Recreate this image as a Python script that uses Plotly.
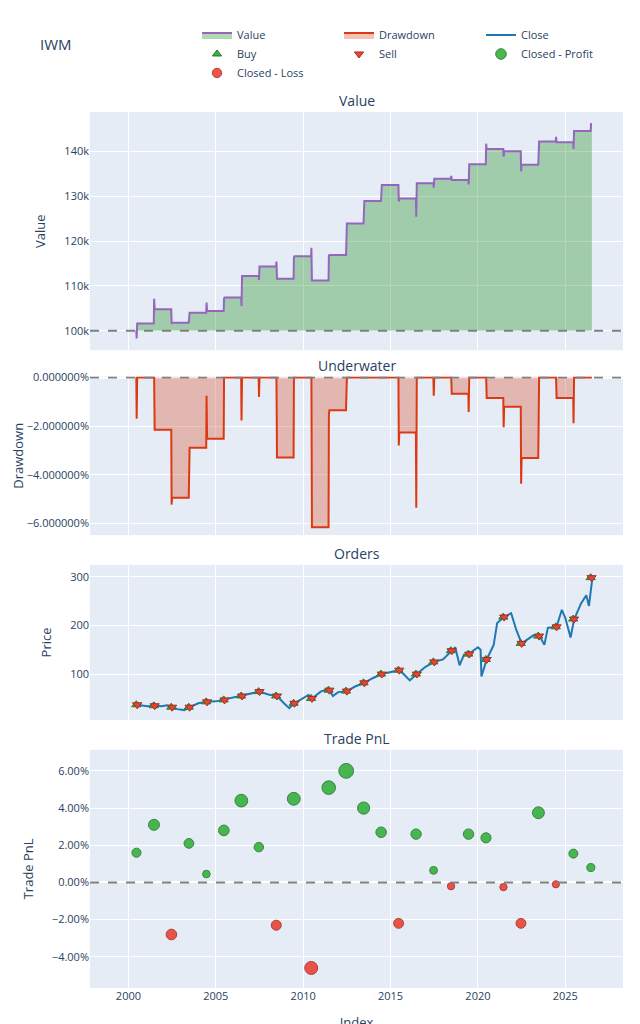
import plotly.graph_objects as go
from plotly.subplots import make_subplots

# one trade per year, entered mid-year
trade_year = list(range(2000, 2027))
trade_spike = [98.3, 107.1, 101.5, 103.8, 106.3, 107.2, 105.5, 111.3, 115.4, 116.4, 118.5, 116.7, 123.7,
               128.7, 132.3, 128.8, 125.4, 131.9, 134.5, 132.6, 141.7, 138.8, 135.5, 142.0, 143.2, 140.5, 146.1]
trade_exit_value = [101.6, 104.8, 101.8, 104.0, 104.4, 107.4, 112.2, 114.3, 111.6, 116.6, 111.2, 116.9, 123.9,
                    128.9, 132.5, 129.5, 132.9, 133.9, 133.6, 137.1, 140.5, 140.0, 137.0, 142.2, 142.0, 144.5, 146.1]
trade_pnl = [0.016, 0.031, -0.028, 0.021, 0.0045, 0.028, 0.044, 0.019, -0.023, 0.045, -0.046, 0.051, 0.060,
             0.040, 0.027, -0.022, 0.026, 0.0065, -0.002, 0.026, 0.024, -0.0025, -0.022, 0.0375, -0.001, 0.0155, 0.008]
order_price = [37, 35, 32, 32, 43, 47, 55, 64, 55, 40, 50, 67, 65, 82, 100, 108, 100, 125, 148, 141, 130,
               217, 163, 178, 197, 213, 298]

close_x = [2000.45, 2000.8, 2001.1, 2001.5, 2001.9, 2002.2, 2002.5, 2002.8, 2003.2, 2003.5, 2004.0, 2004.5,
           2005.0, 2005.5, 2006.0, 2006.5, 2007.0, 2007.5, 2008.0, 2008.5, 2008.9, 2009.2, 2009.5, 2010.0,
           2010.3, 2010.5, 2011.0, 2011.3, 2011.5, 2011.7, 2012.0, 2012.5, 2013.0, 2013.5, 2014.0, 2014.5,
           2015.0, 2015.5, 2015.8, 2016.1, 2016.5, 2017.0, 2017.5, 2018.0, 2018.5, 2018.7, 2018.95, 2019.2,
           2019.5, 2020.0, 2020.15, 2020.2, 2020.5, 2020.9, 2021.1, 2021.5, 2021.9, 2022.2, 2022.5, 2022.8,
           2023.2, 2023.5, 2023.8, 2024.0, 2024.5, 2024.8, 2025.0, 2025.3, 2025.5, 2025.9, 2026.2, 2026.35, 2026.55]
close_y = [37, 36, 34, 35, 34, 36, 32, 28, 26, 32, 40, 43, 44, 48, 52, 55, 60, 64, 58, 55, 40, 30, 40, 50,
           57, 50, 64, 68, 67, 55, 63, 65, 75, 82, 92, 100, 104, 108, 98, 87, 100, 115, 125, 130, 148, 155,
           118, 140, 142, 155, 150, 95, 130, 160, 205, 217, 225, 190, 163, 170, 180, 180, 160, 195, 197, 232,
           215, 175, 212, 245, 262, 240, 298]

value_start = 100.0
x_range = [1997.8, 2028.3]

# value curve: flat between trades, spiking inside each trade
value_x, value_y = [], []
prev = value_start
for yr, spike, exit_v in zip(trade_year, trade_spike, trade_exit_value):
    value_x += [yr + 0.45, yr + 0.47, yr + 0.5]
    value_y += [prev * 1000, spike * 1000, exit_v * 1000]
    prev = exit_v
value_x[-1] = value_x[-2] + 0.05
value_y[-1] = value_y[-2]

peak = 0
drawdown = []
for v in value_y:
    peak = max(peak, v)
    drawdown.append(v / peak - 1)

entry_x = [y + 0.45 for y in trade_year]
exit_x = [y + 0.5 for y in trade_year]
pnl_x = [y + 0.46 for y in trade_year]
pnl_size = [7 + abs(p) * 130 for p in trade_pnl]

fig = make_subplots(rows=4, cols=1, shared_xaxes=True, vertical_spacing=0.05,
                    subplot_titles=['Value', 'Underwater', 'Orders', 'Trade PnL'])

fig.add_trace(go.Scatter(x=value_x, y=[value_start * 1000] * len(value_x), mode='lines',
                         line=dict(width=0), showlegend=False, hoverinfo='skip'), row=1, col=1)
fig.add_trace(go.Scatter(x=value_x, y=value_y, mode='lines', name='Value', fill='tonexty',
                         fillcolor='rgba(0,128,0,0.3)', line=dict(color='#9467bd', width=2)), row=1, col=1)
fig.add_trace(go.Scatter(x=value_x, y=drawdown, mode='lines', name='Drawdown', fill='tozeroy',
                         fillcolor='rgba(220,57,18,0.3)', line=dict(color='#dc3912', width=2)), row=2, col=1)
fig.add_trace(go.Scatter(x=close_x, y=close_y, mode='lines', name='Close',
                         line=dict(color='#1f77b4', width=2)), row=3, col=1)
fig.add_trace(go.Scatter(x=entry_x, y=order_price, mode='markers', name='Buy',
                         marker=dict(symbol='triangle-up', size=8, color='#37B13F',
                                     line=dict(color='#267B2C', width=1))), row=3, col=1)
fig.add_trace(go.Scatter(x=exit_x, y=order_price, mode='markers', name='Sell',
                         marker=dict(symbol='triangle-down', size=8, color='#EA4335',
                                     line=dict(color='#A32F25', width=1))), row=3, col=1)

prof = [i for i, p in enumerate(trade_pnl) if p >= 0]
loss = [i for i, p in enumerate(trade_pnl) if p < 0]
fig.add_trace(go.Scatter(x=[pnl_x[i] for i in prof], y=[trade_pnl[i] for i in prof], mode='markers',
                         name='Closed - Profit',
                         marker=dict(size=[pnl_size[i] for i in prof], color='#37B13F', opacity=0.9,
                                     line=dict(color='#267B2C', width=1))), row=4, col=1)
fig.add_trace(go.Scatter(x=[pnl_x[i] for i in loss], y=[trade_pnl[i] for i in loss], mode='markers',
                         name='Closed - Loss',
                         marker=dict(size=[pnl_size[i] for i in loss], color='#EA4335', opacity=0.9,
                                     line=dict(color='#A32F25', width=1))), row=4, col=1)

for row, level in [(1, value_start * 1000), (2, 0), (4, 0)]:
    fig.add_hline(y=level, line=dict(color='gray', dash='dash', width=2), row=row, col=1)

domains = [[0.728, 1.0], [0.517, 0.698], [0.306, 0.483], [0.0, 0.272]]
for i, d in enumerate(domains, start=1):
    fig.update_yaxes(domain=d, row=i, col=1)
for ann, d in zip(fig.layout.annotations, domains):
    ann.y = d[1]
    ann.font.size = 14

fig.update_xaxes(range=x_range, tickfont=dict(size=11), automargin=False)
fig.update_xaxes(title_text='Index', title_font=dict(size=13), row=4, col=1)
fig.update_yaxes(tickfont=dict(size=11), automargin=False, title_font=dict(size=13))
fig.update_yaxes(title_text='Value', row=1, col=1)
fig.update_yaxes(title_text='Drawdown', tickformat='.6%', title_standoff=0, row=2, col=1)
fig.update_yaxes(title_text='Price', row=3, col=1)
fig.update_yaxes(title_text='Trade PnL', tickformat='.2%', row=4, col=1)

fig.update_layout(
    width=640, height=1024,
    font=dict(size=11),
    margin=dict(l=82, r=25, t=80, b=44),
    title=dict(text='IWM', xref='container', x=0.05, y=0.964, yanchor='middle', font=dict(size=15)),
    legend=dict(orientation='h', x=1, xanchor='right', y=1.028, yanchor='bottom', traceorder='normal',
                entrywidth=97, entrywidthmode='pixels', font=dict(size=11)),
)

fig.write_html("out.html")
